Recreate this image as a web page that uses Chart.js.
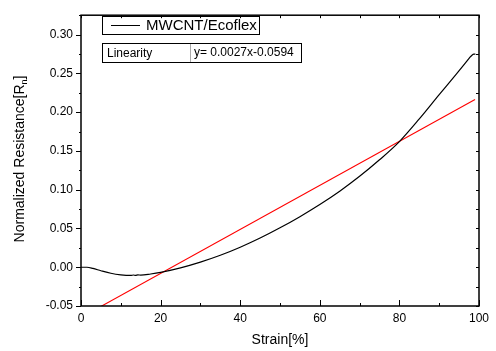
<!DOCTYPE html>
<html>
<head>
<meta charset="utf-8">
<script src="https://cdn.jsdelivr.net/npm/chart.js@4/dist/chart.umd.min.js"></script>
<style>
html,body{margin:0;padding:0;background:#fff;}
#wrap{position:relative;width:496px;height:351px;}
</style>
</head>
<body>
<div id="wrap"><canvas id="c" width="496" height="351"></canvas></div>
<script>
// Data
const strain = [0, 1.5, 3, 5, 7.5, 10, 12.5, 13.2, 13.7, 14.3, 15, 17.5, 20, 25, 30, 35, 40, 45, 50, 55, 60, 65, 70, 75, 80, 85, 90, 94.4, 97, 97.6, 98.3, 98.7, 99.1];
const resistance = [0.0000, 0.0000, -0.0015, -0.0045, -0.0078, -0.0098, -0.0106, -0.0100, -0.0106, -0.0099, -0.0102, -0.0087, -0.0066, -0.0008, 0.0066, 0.0154, 0.0258, 0.0376, 0.0508, 0.0652, 0.0808, 0.0980, 0.1172, 0.1385, 0.1620, 0.1912, 0.2225, 0.2496, 0.2660, 0.2700, 0.2738, 0.2747, 0.2747];
const fitStrain = [0, 99];
const fitValues = [-0.0648, 0.2164];
const xTicks = [0, 20, 40, 60, 80, 100];
const yTicks = [-0.05, 0.00, 0.05, 0.10, 0.15, 0.20, 0.25, 0.30];
const seriesName = "MWCNT/Ecoflex";
const fitLabel = "Linearity";
const fitEquation = "y= 0.0027x-0.0594";

const FONT = "'Liberation Sans', Arial, sans-serif";

const framePlugin = {
  id: 'frame',
  afterDraw(chart) {
    const ctx = chart.ctx;
    const a = chart.chartArea;
    const xs = chart.scales.x, ys = chart.scales.y;
    ctx.save();
    ctx.strokeStyle = '#000';
    ctx.lineWidth = 1.5;
    ctx.strokeRect(a.left, a.top, a.right - a.left, a.bottom - a.top);
    ctx.lineWidth = 1;
    ctx.beginPath();
    for (let v = 0; v <= 100; v += 10) {
      const px = Math.round(xs.getPixelForValue(v)) + 0.5;
      const major = v % 20 === 0;
      ctx.moveTo(px, a.bottom); ctx.lineTo(px, a.bottom - (major ? 6 : 3));
      ctx.moveTo(px, a.top); ctx.lineTo(px, a.top + 3);
    }
    for (let i = 0; i <= 15; i++) {
      const v = -0.05 + i * 0.025;
      if (v > 0.326) break;
      const py = Math.round(ys.getPixelForValue(v)) + 0.5;
      const major = i % 2 === 0;
      ctx.moveTo(a.left, py); ctx.lineTo(a.left - (major ? 5 : 2), py);
      ctx.moveTo(a.right, py); ctx.lineTo(a.right - 3, py);
    }
    ctx.stroke();

    // legend box
    ctx.lineWidth = 1;
    ctx.strokeStyle = '#000';
    ctx.strokeRect(102.5, 16.5, 157, 18);
    ctx.beginPath();
    ctx.moveTo(111, 25.5); ctx.lineTo(140, 25.5);
    ctx.stroke();
    ctx.fillStyle = '#000';
    ctx.font = '15px ' + FONT;
    ctx.textBaseline = 'middle';
    ctx.textAlign = 'left';
    ctx.fillText(seriesName, 146, 26);

    // linearity table
    ctx.strokeStyle = '#000';
    ctx.strokeRect(102.5, 43.5, 199, 19);
    ctx.strokeStyle = '#aaa';
    ctx.beginPath();
    ctx.moveTo(190.5, 44); ctx.lineTo(190.5, 62);
    ctx.stroke();
    ctx.font = '12px ' + FONT;
    ctx.fillText(fitLabel, 107, 53.5);
    ctx.fillText(fitEquation, 194, 52.5);

    // y axis title with subscript
    ctx.save();
    ctx.translate(19, 159);
    ctx.rotate(-Math.PI / 2);
    ctx.font = '14px ' + FONT;
    const t1 = 'Normalized Resistance[R';
    const w1 = ctx.measureText(t1).width;
    ctx.font = '9px ' + FONT;
    const w2 = ctx.measureText('n').width;
    ctx.font = '14px ' + FONT;
    const w3 = ctx.measureText(']').width;
    let x0 = -(w1 + w2 + w3) / 2;
    ctx.textAlign = 'left';
    ctx.textBaseline = 'alphabetic';
    ctx.fillText(t1, x0, 5);
    ctx.font = '9px ' + FONT;
    ctx.fillText('n', x0 + w1, 8);
    ctx.font = '14px ' + FONT;
    ctx.fillText(']', x0 + w1 + w2, 5);
    ctx.restore();

    // x axis title
    ctx.font = '14px ' + FONT;
    ctx.textAlign = 'center';
    ctx.textBaseline = 'middle';
    ctx.fillText('Strain[%]', (a.left + a.right) / 2, 340);
    ctx.restore();
  }
};

new Chart(document.getElementById('c'), {
  type: 'line',
  data: {
    datasets: [
      {
        label: seriesName,
        data: strain.map((x, i) => ({x, y: resistance[i]})),
        borderColor: '#000',
        borderWidth: 1.2,
        pointRadius: 0,
        cubicInterpolationMode: 'monotone',
        fill: false
      },
      {
        label: fitLabel,
        data: fitStrain.map((x, i) => ({x, y: fitValues[i]})),
        borderColor: '#ff0000',
        borderWidth: 1.1,
        pointRadius: 0,
        fill: false
      }
    ]
  },
  options: {
    responsive: false,
    animation: false,
    devicePixelRatio: 1,
    layout: { padding: { left: 0, right: 17, top: 4, bottom: 0 } },
    plugins: { legend: { display: false }, tooltip: { enabled: false } },
    scales: {
      x: {
        type: 'linear', min: 0, max: 100,
        afterFit(s) { s.height = 45; },
        afterBuildTicks(s) { s.ticks = xTicks.map(v => ({value: v})); },
        grid: { display: false, drawTicks: false },
        border: { display: false },
        ticks: { color: '#000', font: { family: FONT, size: 12 }, padding: 5, maxRotation: 0,
          callback: v => String(v) }
      },
      y: {
        type: 'linear', min: -0.05, max: 0.325,
        afterFit(s) { s.width = 81; },
        afterBuildTicks(s) { s.ticks = yTicks.map(v => ({value: v})); },
        grid: { display: false, drawTicks: false },
        border: { display: false },
        ticks: { color: '#000', font: { family: FONT, size: 12 }, padding: 8,
          callback: v => Number(v).toFixed(2) }
      }
    }
  },
  plugins: [framePlugin]
});
</script>
</body>
</html>
